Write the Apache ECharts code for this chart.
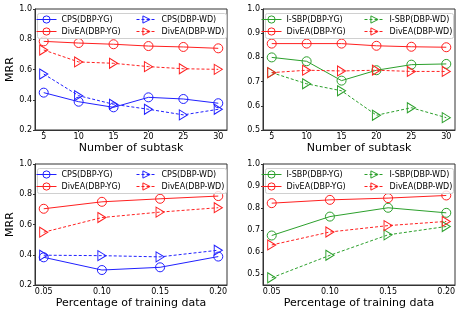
<!DOCTYPE html>
<html><head><meta charset="utf-8">
<script src="https://cdn.jsdelivr.net/npm/echarts@6/dist/echarts.min.js"></script>
<style>html,body{margin:0;padding:0;background:#fff}#c{width:474px;height:316px}</style>
</head><body><div id="c"></div>
<script>
// ---------- data ----------
const subtasks = [5, 10, 15, 20, 25, 30];
const trainPct = [0.05, 0.10, 0.15, 0.20];
const subtaskTicks = [5, 10, 15, 20, 25, 30];
const pctTicks = [0.05, 0.10, 0.15, 0.20];
const pctTickLabels = ['0.05', '0.10', '0.15', '0.20'];
const yTicksA = [0.2, 0.4, 0.6, 0.8, 1.0];
const yTicksB = [0.5, 0.6, 0.7, 0.8, 0.9, 1.0];

// top-left: CPS vs DivEA, number of subtask
const tl_cps_yg   = [0.447, 0.387, 0.350, 0.416, 0.405, 0.377];
const tl_divea_yg = [0.786, 0.775, 0.767, 0.755, 0.749, 0.740];
const tl_cps_wd   = [0.570, 0.427, 0.370, 0.337, 0.300, 0.337];
const tl_divea_wd = [0.729, 0.650, 0.641, 0.619, 0.605, 0.601];
// top-right: I-SBP vs DivEA, number of subtask
const tr_isbp_yg  = [0.800, 0.784, 0.704, 0.747, 0.770, 0.773];
const tr_divea_yg = [0.857, 0.857, 0.857, 0.848, 0.844, 0.842];
const tr_isbp_wd  = [0.737, 0.691, 0.662, 0.561, 0.592, 0.551];
const tr_divea_wd = [0.737, 0.747, 0.744, 0.747, 0.742, 0.742];
// bottom-left: CPS vs DivEA, percentage of training data
const bl_cps_yg   = [0.383, 0.299, 0.317, 0.388];
const bl_divea_yg = [0.704, 0.750, 0.770, 0.788];
const bl_cps_wd   = [0.397, 0.394, 0.386, 0.430];
const bl_divea_wd = [0.549, 0.646, 0.682, 0.711];
// bottom-right: I-SBP vs DivEA, percentage of training data
const br_isbp_yg  = [0.675, 0.761, 0.801, 0.778];
const br_divea_yg = [0.822, 0.837, 0.845, 0.857];
const br_isbp_wd  = [0.483, 0.585, 0.678, 0.716];
const br_divea_wd = [0.632, 0.691, 0.720, 0.739];

// ---------- styling ----------
const FONT = 'DejaVu Sans';
const BLUE = '#2020ff', RED = '#ff2020', GREEN = '#2ca02c';
const TRI = 'path://M0,0 L9,5 L0,10 Z';

const grids = [
  {left: 35, top: 9, width: 192, height: 121},
  {left: 263, top: 9, width: 192, height: 121},
  {left: 35, top: 164, width: 192, height: 121},
  {left: 263, top: 164, width: 192, height: 121}
].map(g => Object.assign(g, {show: true, borderColor: '#333', borderWidth: 1, backgroundColor: 'transparent'}));

function xAxis(gi, isSub) {
  const ticks = isSub ? subtaskTicks : pctTicks;
  return {
    type: 'value', gridIndex: gi,
    min: isSub ? 3.75 : 0.0425, max: isSub ? 31.25 : 0.2075,
    name: isSub ? 'Number of subtask' : 'Percentage of training data',
    nameLocation: 'middle', nameGap: 13,
    nameTextStyle: {fontFamily: FONT, fontSize: 11, color: '#000'},
    axisLine: {show: true, onZero: false, lineStyle: {color: '#333'}},
    axisTick: {show: true, length: 2, customValues: ticks, lineStyle: {color: '#333'}},
    axisLabel: {margin: 3, fontFamily: FONT, fontSize: 8, color: '#000', customValues: ticks,
      formatter: v => isSub ? String(v) : pctTickLabels[pctTicks.findIndex(t => Math.abs(t - v) < 1e-6)]},
    splitLine: {show: false}
  };
}
function yAxis(gi, ticks, min, showName) {
  return {
    type: 'value', gridIndex: gi, min: min, max: 1.0,
    name: showName ? 'MRR' : '', nameLocation: 'middle', nameGap: 19, nameRotate: 90,
    nameTextStyle: {fontFamily: FONT, fontSize: 11, color: '#000'},
    axisLine: {show: true, onZero: false, lineStyle: {color: '#333'}},
    axisTick: {show: true, length: 2, customValues: ticks, lineStyle: {color: '#333'}},
    axisLabel: {margin: 3, fontFamily: FONT, fontSize: 8, color: '#000', customValues: ticks,
      formatter: v => v.toFixed(1)},
    splitLine: {show: false}
  };
}

function line(name, xs, ys, gi, color, tri) {
  return {
    type: 'line', name: name, xAxisIndex: gi, yAxisIndex: gi,
    data: xs.map((x, i) => [x, ys[i]]),
    symbol: tri ? TRI : 'circle', symbolSize: tri ? [9, 10] : 9, symbolKeepAspect: true,
    showAllSymbol: true,
    lineStyle: {color: color, width: 1, type: tri ? [3, 2] : 'solid'},
    itemStyle: {color: 'rgba(255,255,255,0)', borderColor: color, borderWidth: 1},
    emphasis: {disabled: true}, animation: false, z: 2
  };
}

const series = [
  line('CPS(DBP-YG)', subtasks, tl_cps_yg, 0, BLUE, false),
  line('DivEA(DBP-YG)', subtasks, tl_divea_yg, 0, RED, false),
  line('CPS(DBP-WD)', subtasks, tl_cps_wd, 0, BLUE, true),
  line('DivEA(DBP-WD)', subtasks, tl_divea_wd, 0, RED, true),
  line('I-SBP(DBP-YG)', subtasks, tr_isbp_yg, 1, GREEN, false),
  line('DivEA(DBP-YG)', subtasks, tr_divea_yg, 1, RED, false),
  line('I-SBP(DBP-WD)', subtasks, tr_isbp_wd, 1, GREEN, true),
  line('DivEA(DBP-WD)', subtasks, tr_divea_wd, 1, RED, true),
  line('CPS(DBP-YG)', trainPct, bl_cps_yg, 2, BLUE, false),
  line('DivEA(DBP-YG)', trainPct, bl_divea_yg, 2, RED, false),
  line('CPS(DBP-WD)', trainPct, bl_cps_wd, 2, BLUE, true),
  line('DivEA(DBP-WD)', trainPct, bl_divea_wd, 2, RED, true),
  line('I-SBP(DBP-YG)', trainPct, br_isbp_yg, 3, GREEN, false),
  line('DivEA(DBP-YG)', trainPct, br_divea_yg, 3, RED, false),
  line('I-SBP(DBP-WD)', trainPct, br_isbp_wd, 3, GREEN, true),
  line('DivEA(DBP-WD)', trainPct, br_divea_wd, 3, RED, true)
];

function legend(left, top, names) {
  return {
    orient: 'vertical', left: left, top: top, padding: 0,
    itemWidth: 20, itemHeight: 9, itemGap: 3,
    selectedMode: false,
    itemStyle: {color: 'rgba(255,255,255,0)', borderWidth: 1},
    lineStyle: {width: 1},
    textStyle: {fontFamily: FONT, fontSize: 8, color: '#000', lineHeight: 9},
    data: names, z: 5
  };
}
const legends = [
  legend(36, 15, ['CPS(DBP-YG)', 'DivEA(DBP-YG)']),
  legend(136, 15, ['CPS(DBP-WD)', 'DivEA(DBP-WD)']),
  legend(261, 15, ['I-SBP(DBP-YG)', 'DivEA(DBP-YG)']),
  legend(364, 15, ['I-SBP(DBP-WD)', 'DivEA(DBP-WD)']),
  legend(36, 170, ['CPS(DBP-YG)', 'DivEA(DBP-YG)']),
  legend(136, 170, ['CPS(DBP-WD)', 'DivEA(DBP-WD)']),
  legend(261, 170, ['I-SBP(DBP-YG)', 'DivEA(DBP-YG)']),
  legend(364, 170, ['I-SBP(DBP-WD)', 'DivEA(DBP-WD)'])
];

function box(x, y, w, h) {
  return {type: 'rect', left: x, top: y, z: 3,
    shape: {width: w, height: h, r: 2},
    style: {fill: 'rgba(255,255,255,0.8)', stroke: '#d0d0d0', lineWidth: 1}};
}

const chart = echarts.init(document.getElementById('c'), null, {renderer: 'canvas'});
chart.setOption({
  animation: false,
  backgroundColor: '#fff',
  grid: grids,
  xAxis: [xAxis(0, true), xAxis(1, true), xAxis(2, false), xAxis(3, false)],
  yAxis: [yAxis(0, yTicksA, 0.2, true), yAxis(1, yTicksB, 0.5, false),
          yAxis(2, yTicksA, 0.2, true), yAxis(3, yTicksB, 0.45, false)],
  legend: legends,
  graphic: [box(37, 13, 189, 25), box(265, 13, 188, 25), box(37, 168, 189, 25), box(265, 168, 188, 25)],
  series: series
});
</script></body></html>
